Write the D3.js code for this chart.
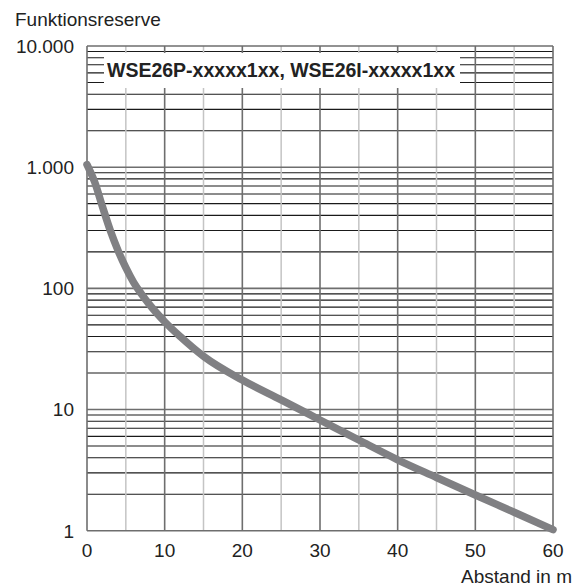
<!DOCTYPE html>
<html>
<head>
<meta charset="utf-8">
<script src="https://cdn.jsdelivr.net/npm/d3@7"></script>
<style>
  body { margin: 0; background: #fff; }
  svg { display: block; }
  text { font-family: "Liberation Sans", Arial, sans-serif; fill: #222; }
</style>
</head>
<body>
<div id="main"></div>
<script>
// data
var distances = [0, 1, 2, 3, 4, 5, 6, 7, 8, 10, 12, 15, 20, 25, 30, 35, 40, 45, 50, 55, 60];
var reserve = [1050, 750, 470, 300, 205, 148, 112, 90, 74, 53, 40, 27.5, 17.5, 12.0, 8.2, 5.6, 3.85, 2.75, 1.97, 1.42, 1.02];
var xTicks = [0, 10, 20, 30, 40, 50, 60];
var xMinor = [5, 15, 25, 35, 45, 55];
var yTicks = [1, 10, 100, 1000, 10000];
var yTickLabels = ["1", "10", "100", "1.000", "10.000"];
var legendText = "WSE26P-xxxxx1xx, WSE26I-xxxxx1xx";

var ctx = {
    w: 574,
    h: 588,
    left: 87,
    right: 553,
    top: 46,
    bottom: 530.7,
    fontSize: 19
};

var x = d3.scaleLinear().domain([0, 60]).range([ctx.left, ctx.right]);
var y = d3.scaleLog().domain([1, 10000]).range([ctx.bottom, ctx.top]);

var svg = d3.select("#main").append("svg")
    .attr("width", ctx.w)
    .attr("height", ctx.h);

// minor horizontal lines 2..9 in every decade
var minorY = [];
[1, 10, 100, 1000].forEach(function(dec) {
    for (var k = 2; k <= 9; k++) minorY.push(dec * k);
});

var grid = svg.append("g");
grid.selectAll("line.hmin")
    .data(minorY)
    .enter().append("line")
    .attr("x1", ctx.left).attr("x2", ctx.right)
    .attr("y1", function(d) { return y(d); })
    .attr("y2", function(d) { return y(d); })
    .style("stroke", "#1a1a1a")
    .style("stroke-width", 1.1);

grid.selectAll("line.vmin")
    .data(xMinor)
    .enter().append("line")
    .attr("x1", function(d) { return x(d); })
    .attr("x2", function(d) { return x(d); })
    .attr("y1", ctx.top).attr("y2", ctx.bottom)
    .style("stroke", "#c4c4c4")
    .style("stroke-width", 1.5);

grid.selectAll("line.vmaj")
    .data(xTicks)
    .enter().append("line")
    .attr("x1", function(d) { return x(d); })
    .attr("x2", function(d) { return x(d); })
    .attr("y1", ctx.top).attr("y2", ctx.bottom)
    .style("stroke", "#6e6e6e")
    .style("stroke-width", 1.6);

grid.selectAll("line.hmaj")
    .data(yTicks)
    .enter().append("line")
    .attr("x1", ctx.left).attr("x2", ctx.right)
    .attr("y1", function(d) { return y(d); })
    .attr("y2", function(d) { return y(d); })
    .style("stroke", "#6e6e6e")
    .style("stroke-width", 1.6);

// legend box over the grid
var lg = svg.append("g");
lg.append("rect")
    .attr("x", 104).attr("y", 53)
    .attr("width", 356).attr("height", 35)
    .style("fill", "#fff");
lg.append("text")
    .attr("x", 107).attr("y", 77)
    .attr("textLength", 348)
    .attr("lengthAdjust", "spacingAndGlyphs")
    .style("font-size", "19.5px")
    .style("font-weight", "bold")
    .text(legendText);

// the curve
var line = d3.line()
    .x(function(d, i) { return x(distances[i]); })
    .y(function(d) { return y(d); })
    .curve(d3.curveMonotoneX);

svg.append("path")
    .datum(reserve)
    .attr("d", line)
    .style("fill", "none")
    .style("stroke", "#808083")
    .style("stroke-width", 7.5)
    .style("stroke-linecap", "round")
    .style("stroke-linejoin", "round");

// tick labels
svg.append("g").selectAll("text")
    .data(yTicks)
    .enter().append("text")
    .attr("x", 74)
    .attr("y", function(d) { return y(d); })
    .attr("dy", "0.36em")
    .attr("text-anchor", "end")
    .style("font-size", ctx.fontSize + "px")
    .text(function(d, i) { return yTickLabels[i]; });

svg.append("g").selectAll("text")
    .data(xTicks)
    .enter().append("text")
    .attr("x", function(d) { return x(d); })
    .attr("y", 557)
    .attr("text-anchor", "middle")
    .style("font-size", ctx.fontSize + "px")
    .text(function(d) { return d; });

// axis titles
svg.append("text")
    .attr("x", 15).attr("y", 26)
    .style("font-size", ctx.fontSize + "px")
    .text("Funktionsreserve");

svg.append("text")
    .attr("x", 572).attr("y", 583)
    .attr("text-anchor", "end")
    .style("font-size", ctx.fontSize + "px")
    .text("Abstand in m");
</script>
</body>
</html>
